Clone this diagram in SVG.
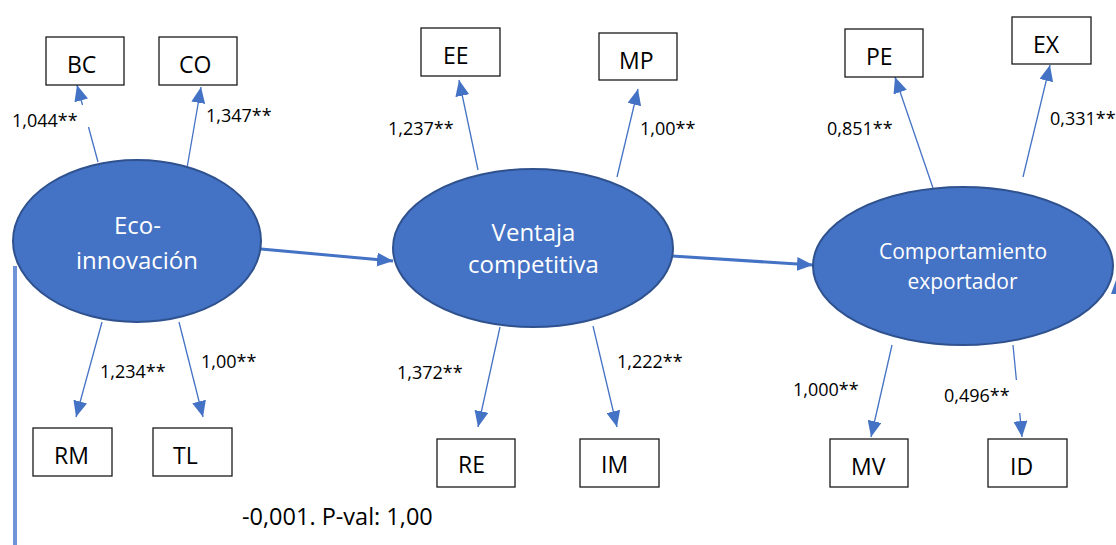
<svg xmlns="http://www.w3.org/2000/svg" width="1116" height="545" viewBox="0 0 1116 545">
  <style>
    .latent { fill: #4472C4; stroke: #2F528F; stroke-width: 2; }
    .latent-text { font-family: "Open Sans", "Liberation Sans", sans-serif; fill: #ffffff; text-anchor: middle; }
    .indicator rect { fill: #ffffff; stroke: #1a1a1a; stroke-width: 1.3; }
    .indicator text { font-family: "Open Sans", "Liberation Sans", sans-serif; font-size: 23px; fill: #000000; }
    .loading { fill: none; stroke: #4472C4; stroke-width: 1.3; marker-end: url(#head); }
    .path { fill: none; stroke: #4472C4; stroke-width: 3; marker-end: url(#head); }
    .label { font-family: "Open Sans", "Liberation Sans", sans-serif; font-size: 18px; fill: #000000; }
    .note { font-family: "Open Sans", "Liberation Sans", sans-serif; font-size: 23.5px; fill: #000000; }
  </style>
  <defs>
    <marker id="head" markerUnits="userSpaceOnUse" markerWidth="16" markerHeight="14" viewBox="0 0 16 14" refX="16" refY="7" orient="auto">
      <path d="M0,0 L16,7 L0,14 Z" fill="#4472C4"/>
    </marker>
  </defs>

  <rect width="1116" height="545" fill="#ffffff"/>

  <!-- connectors -->
  <g id="connectors">
    <!-- structural paths -->
    <line class="path" x1="261" y1="249" x2="393" y2="261"/>
    <line class="path" x1="672" y1="256" x2="813" y2="265"/>
    <!-- Eco-innovación loadings -->
    <path class="loading" d="M98,162 L88.5,127 M82.5,105 L77,85"/>
    <line class="loading" x1="187" y1="168" x2="201" y2="87"/>
    <line class="loading" x1="102" y1="322" x2="76" y2="417"/>
    <line class="loading" x1="179" y1="322" x2="203" y2="417"/>
    <!-- Ventaja competitiva loadings -->
    <line class="loading" x1="478" y1="170" x2="459" y2="80"/>
    <line class="loading" x1="617" y1="177" x2="638" y2="89"/>
    <line class="loading" x1="500" y1="327" x2="478" y2="427"/>
    <line class="loading" x1="593" y1="326" x2="617" y2="427"/>
    <!-- Comportamiento exportador loadings -->
    <line class="loading" x1="933" y1="188" x2="895" y2="77"/>
    <line class="loading" x1="1023" y1="177" x2="1050" y2="65"/>
    <line class="loading" x1="892" y1="345" x2="871" y2="437"/>
    <path class="loading" d="M1013,345 L1016.4,380 M1019.7,413 L1022,437"/>
    <!-- direct path line on the left -->
    <line x1="15" y1="266" x2="15" y2="545" stroke="#6F93D8" stroke-width="4"/>
    <!-- arrowhead entering from the right edge -->
    <polygon points="1111,294 1116,280 1116,294" fill="#4472C4"/>
  </g>

  <!-- latent constructs -->
  <g id="eco-innovacion">
    <ellipse class="latent" cx="137" cy="241" rx="124" ry="81"/>
    <text class="latent-text" x="137.5" y="234" font-size="24">Eco-</text>
    <text class="latent-text" x="137" y="269" font-size="24">innovación</text>
  </g>
  <g id="ventaja-competitiva">
    <ellipse class="latent" cx="533" cy="248" rx="140" ry="79"/>
    <text class="latent-text" x="533.5" y="241" font-size="24">Ventaja</text>
    <text class="latent-text" x="533.5" y="273" font-size="24">competitiva</text>
  </g>
  <g id="comportamiento-exportador">
    <ellipse class="latent" cx="963" cy="266" rx="150" ry="79"/>
    <text class="latent-text" x="963" y="259" font-size="21">Comportamiento</text>
    <text class="latent-text" x="962.5" y="289" font-size="21">exportador</text>
  </g>

  <!-- indicators -->
  <g id="bc" class="indicator"><rect x="46" y="37" width="78" height="48"/><text x="67" y="73">BC</text></g>
  <g id="co" class="indicator"><rect x="159" y="37" width="78" height="48"/><text x="179" y="73">CO</text></g>
  <g id="rm" class="indicator"><rect x="33" y="428" width="79" height="48"/><text x="54" y="464">RM</text></g>
  <g id="tl" class="indicator"><rect x="153" y="428" width="79" height="48"/><text x="173" y="464">TL</text></g>
  <g id="ee" class="indicator"><rect x="421" y="28" width="79" height="48"/><text x="443" y="64">EE</text></g>
  <g id="mp" class="indicator"><rect x="599" y="33" width="78" height="47"/><text x="619" y="69">MP</text></g>
  <g id="re" class="indicator"><rect x="437" y="439" width="78" height="48"/><text x="458" y="473">RE</text></g>
  <g id="im" class="indicator"><rect x="580" y="439" width="79" height="48"/><text x="601" y="473">IM</text></g>
  <g id="pe" class="indicator"><rect x="845" y="29" width="78" height="48"/><text x="866" y="65">PE</text></g>
  <g id="ex" class="indicator"><rect x="1012" y="17" width="79" height="47"/><text x="1033" y="53">EX</text></g>
  <g id="mv" class="indicator"><rect x="830" y="439" width="78" height="48"/><text x="851" y="475">MV</text></g>
  <g id="id" class="indicator"><rect x="988" y="439" width="79" height="48"/><text x="1010" y="475">ID</text></g>

  <!-- loading values -->
  <g id="labels">
    <text class="label" x="12" y="127">1,044**</text>
    <text class="label" x="206" y="122">1,347**</text>
    <text class="label" x="100" y="378">1,234**</text>
    <text class="label" x="201" y="368">1,00**</text>
    <text class="label" x="388" y="135">1,237**</text>
    <text class="label" x="640" y="135">1,00**</text>
    <text class="label" x="397" y="379">1,372**</text>
    <text class="label" x="617" y="368">1,222**</text>
    <text class="label" x="827" y="135">0,851**</text>
    <text class="label" x="1050" y="125">0,331**</text>
    <text class="label" x="793" y="396">1,000**</text>
    <text class="label" x="944" y="402">0,496**</text>
    <text class="note" x="242" y="525">-0,001. P-val: 1,00</text>
  </g>
</svg>
